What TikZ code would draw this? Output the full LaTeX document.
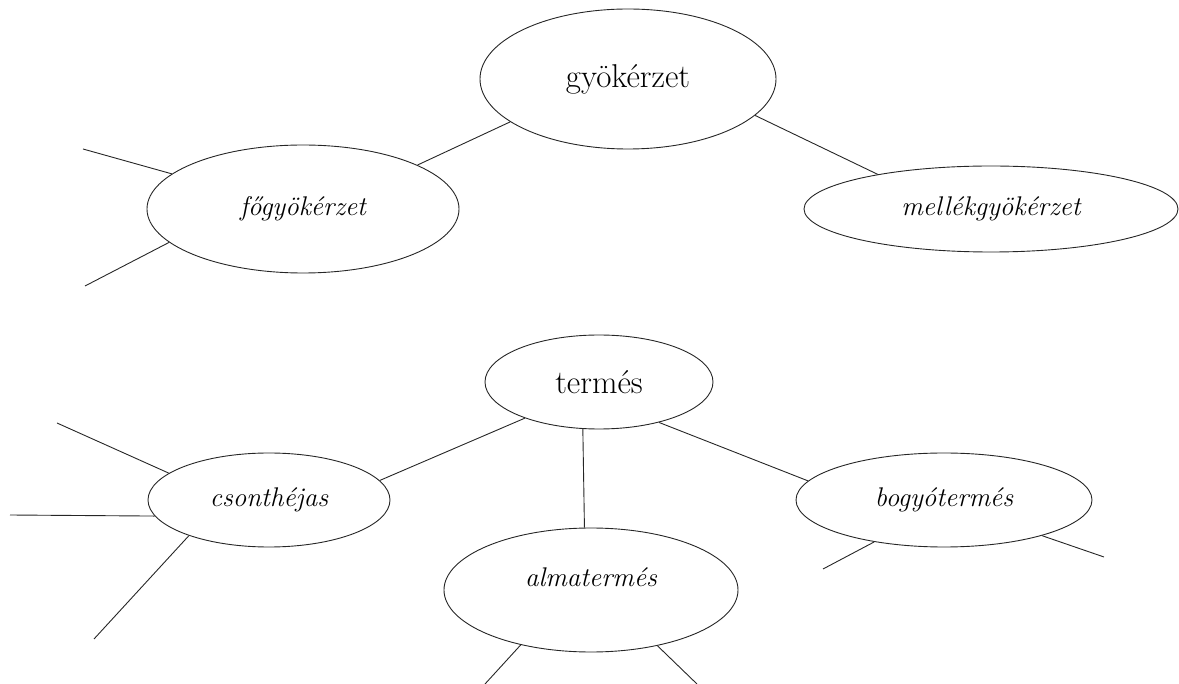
\documentclass[tikz,border=0pt]{standalone}
\usepackage{fontspec}
\usepackage{tikz}
\usetikzlibrary{shapes.geometric}

\begin{document}
\begin{tikzpicture}[x=1pt,y=-1pt, line width=0.9pt, draw=black!85,
    ell/.style={draw, ellipse, inner sep=0pt},
    upr/.style={font=\fontsize{33}{40}\selectfont},
    ita/.style={font=\fontsize{27}{32}\selectfont\itshape}]
\useasboundingbox (0,0) rectangle (1179,684);
% upper map
\node[ell,upr,minimum width=296pt,minimum height=140pt] (gyok)   at (628,79)  {gyökérzet};
\node[ell,ita,minimum width=312pt,minimum height=128pt] (fogyok) at (303,209) {főgyökérzet};
\node[ell,ita,minimum width=374pt,minimum height=86pt]  (mellek) at (991,209) {mellékgyökérzet};
\draw (gyok.200) -- (fogyok.21);
\draw (gyok.344) -- (mellek.163);
\coordinate (fg1) at (83,149);
\coordinate (fg2) at (85,286);
\draw (fogyok.165) -- (fg1);
\draw (fogyok.194) -- (fg2);
% lower map
\node[ell,upr,minimum width=228pt,minimum height=94pt]  (termes) at (599,382) {termés};
\node[ell,ita,minimum width=242pt,minimum height=94pt]  (csont)  at (269,500) {csonthéjas};
\node[ell,ita,minimum width=294pt,minimum height=124pt,text depth=26pt] (alma) at (591,590) {almatermés};
\node[ell,ita,minimum width=296pt,minimum height=94pt]  (bogyo)  at (944,500) {bogyótermés};
\draw (termes.206) -- (csont.10);
\draw (termes.251) -- (alma.96);
\draw (termes.326) -- (bogyo.172);
\coordinate (cs1) at (57,423);
\coordinate (cs2) at (10,515);
\coordinate (cs3) at (94,639);
\coordinate (bo1) at (823,569);
\coordinate (bo2) at (1104,557);
\coordinate (al1) at (485,684);
\coordinate (al2) at (697,684);
\draw (csont.165) -- (cs1);
\draw (csont.188) -- (cs2);
\draw (csont.204) -- (cs3);
\draw (bogyo.211) -- (bo1);
\draw (bogyo.340) -- (bo2);
\draw (alma.218) -- (al1);
\draw (alma.320) -- (al2);
\end{tikzpicture}
\end{document}
